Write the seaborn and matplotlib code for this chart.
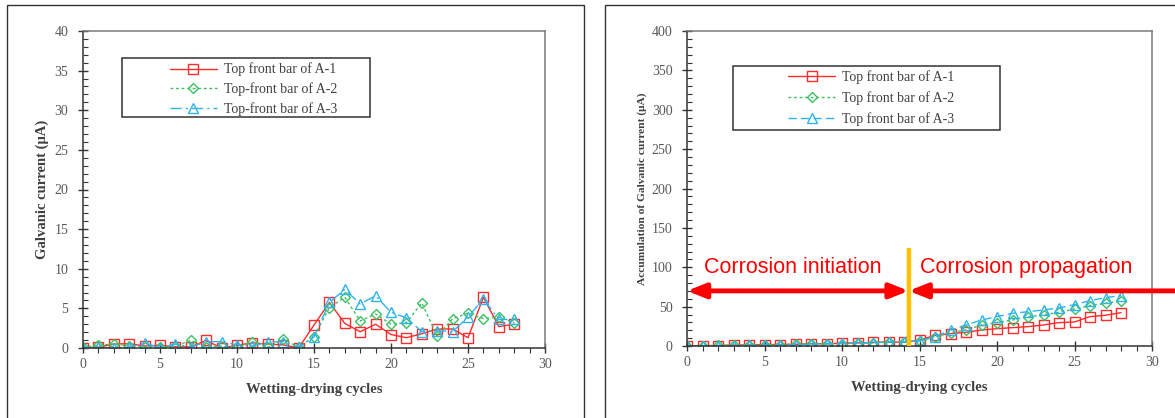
import numpy as np
import pandas as pd
import seaborn as sns
from matplotlib import pyplot as plt
from matplotlib.patches import Rectangle
from matplotlib.ticker import MultipleLocator

cycles = list(range(29))

# galvanic current, uA (left panel)
cur_a1 = [0, 0.1, 0.5, 0.55, 0.25, 0.35, 0.15, 0.15, 0.95, 0, 0.35, 0.65, 0.5, 0.4, 0,
          2.9, 5.75, 3.1, 2.05, 3.0, 1.7, 1.3, 1.8, 2.4, 2.4, 1.3, 6.4, 2.7, 3.0]
cur_a2 = [0.1, 0.35, 0.5, 0.25, 0.15, 0.1, 0.25, 0.95, 0.1, 0.25, 0.1, 0.8, 0.1, 1.1, 0.1,
          1.4, 5.1, 6.4, 3.4, 4.3, 3.0, 3.2, 5.7, 1.5, 3.7, 4.4, 3.7, 3.9, 3.2]
cur_a3 = [0, 0.1, 0, 0.1, 0.65, 0, 0.5, 0.1, 0.8, 0.8, 0.4, 0.25, 0.75, 0.8, 0.1,
          1.4, 5.75, 7.4, 5.55, 6.6, 4.5, 3.8, 2.05, 2.2, 2.05, 3.9, 6.2, 3.6, 3.6]

# accumulated galvanic current (right panel)
acc_a1 = [0, 0.2, 0.6, 1.2, 1.4, 1.8, 1.9, 2.1, 3.0, 3.0, 3.4, 4.0, 4.5, 4.9, 4.9,
          7.6, 13.5, 15.7, 17.4, 20.3, 22.0, 23.3, 24.6, 26.7, 29.7, 30.5, 37.3, 39.0, 42.4]
acc_a2 = [0.1, 0.4, 0.9, 1.1, 1.3, 1.4, 1.6, 2.6, 2.7, 2.9, 3.0, 3.8, 3.9, 5.0, 5.1,
          6.5, 11.5, 17.0, 20.3, 26.7, 29.7, 33.0, 37.3, 39.4, 42.8, 47.0, 51.3, 54.2, 57.2]
acc_a3 = [0, 0.1, 0.1, 0.2, 0.8, 0.8, 1.3, 1.4, 2.2, 3.0, 3.4, 3.7, 4.4, 5.2, 5.3,
          6.5, 11.9, 20.3, 26.7, 33.0, 37.3, 41.5, 43.6, 45.8, 48.3, 52.5, 57.6, 61.4, 64.0]

left_labels = ["Top front bar of A-1", "Top-front bar of A-2", "Top-front bar of A-3"]
right_labels = ["Top front bar of A-1", "Top front bar of A-2", "Top front bar of A-3"]

split_cycle = 14.3
arrow_y = 70
split_top = 125

df_cur = pd.DataFrame({"cycle": cycles, "A1": cur_a1, "A2": cur_a2, "A3": cur_a3})
df_acc = pd.DataFrame({"cycle": cycles, "A1": acc_a1, "A2": acc_a2, "A3": acc_a3})

sns.set_style("ticks")
plt.rcParams['font.family'] = ['Liberation Serif', 'DejaVu Serif']

red = '#FF2A2A'
green = '#3CC060'
blue = '#2DB4EA'
tick_grey = '#595959'
label_grey = '#404040'

fig = plt.figure(figsize=(11.75, 4.18), dpi=100)

# panel frames
fig.patches.append(Rectangle((7 / 1175, -0.05), 577 / 1175, 1.05 - 5 / 418,
                             transform=fig.transFigure, fill=False, ec='#333333', lw=1.0))
fig.patches.append(Rectangle((605 / 1175, -0.05), 0.6, 1.05 - 5 / 418,
                             transform=fig.transFigure, fill=False, ec='#333333', lw=1.0))

ax1 = fig.add_axes([83 / 1175, 1 - 348 / 418, 462 / 1175, 317 / 418])
ax2 = fig.add_axes([687 / 1175, 1 - 346 / 418, 465 / 1175, 315 / 418])


def draw_series(ax, df, labels, a3_dash):
    styles = [
        ("A1", red, 's', '-'),
        ("A2", green, 'D', (0, (2, 2))),
        ("A3", blue, '^', a3_dash),
    ]
    for (col, c, m, ls), lab in zip(styles, labels):
        sns.lineplot(data=df, x="cycle", y=col, ax=ax, color=c, marker=m,
                     markersize=6.5 if m != 'D' else 5, markerfacecolor='none',
                     markeredgecolor=c, markeredgewidth=1.0, linestyle=ls,
                     linewidth=1.0, label=lab, legend=False)


def style_axes(ax, ymax, ymaj, ymin_step, ylabel, ylabel_size):
    ax.set_xlim(0, 30)
    ax.set_ylim(0, ymax)
    ax.xaxis.set_major_locator(MultipleLocator(5))
    ax.xaxis.set_minor_locator(MultipleLocator(1))
    ax.yaxis.set_major_locator(MultipleLocator(ymaj))
    ax.yaxis.set_minor_locator(MultipleLocator(ymin_step))
    ax.tick_params(axis='both', which='major', direction='inout', length=7, width=1,
                   color='#333333', labelsize=10, labelcolor=tick_grey)
    ax.tick_params(axis='y', which='major', pad=7)
    ax.tick_params(axis='x', which='major', pad=4)
    ax.tick_params(axis='y', which='minor', direction='in', length=3.5, width=0.8, color='#333333')
    ax.tick_params(axis='x', which='minor', direction='out', length=3.5, width=0.8, color='#333333')
    for side in ['left', 'bottom']:
        ax.spines[side].set_color('#333333')
        ax.spines[side].set_linewidth(1.1)
    for side in ['top', 'right']:
        ax.spines[side].set_color('#7a7a7a')
        ax.spines[side].set_linewidth(1.1)
    ax.set_xlabel("Wetting-drying cycles", fontsize=10.5, fontweight='bold', color=label_grey,
                  labelpad=8)
    ax.set_ylabel(ylabel, fontsize=ylabel_size, fontweight='bold', color=label_grey)


def add_legend(ax, box, anchor, spacing):
    ax.add_patch(Rectangle((box[0], box[1]), box[2] - box[0], box[3] - box[1],
                           transform=ax.transAxes, fill=False, ec='#333333', lw=1.1, zorder=5))
    h, l = ax.get_legend_handles_labels()
    ax.legend(h, l, loc='upper left', bbox_to_anchor=anchor, frameon=False, fontsize=10,
              handlelength=3.4, handletextpad=0.5, labelspacing=spacing, borderaxespad=0,
              borderpad=0, labelcolor=label_grey)


draw_series(ax1, df_cur, left_labels, (0, (8, 3, 1.5, 3)))
style_axes(ax1, 40, 5, 1, "Galvanic current (μA)", 10.5)
ax1.yaxis.set_label_coords(-0.074, 0.5)
add_legend(ax1, (0.084, 0.729, 0.621, 0.915), (0.188, 0.9), 0.42)

draw_series(ax2, df_acc, right_labels, (0, (6, 3)))
style_axes(ax2, 400, 50, 10, "Accumulation of Galvanic current (μA)", 8.2)
ax2.yaxis.set_label_coords(-0.086, 0.5)
add_legend(ax2, (0.099, 0.686, 0.673, 0.889), (0.217, 0.875), 0.52)

# initiation / propagation annotation
ax2.plot([split_cycle, split_cycle], [0, split_top], color='#FFC000', lw=3.2, zorder=6,
         solid_capstyle='butt')
ax2.annotate("", xy=(split_cycle, arrow_y), xytext=(0, arrow_y),
             arrowprops=dict(arrowstyle='<|-|>,head_length=0.55,head_width=0.22',
                             color='#FF0000', lw=3.5, shrinkA=0, shrinkB=0,
                             mutation_scale=20), zorder=7)
ax2.annotate("", xy=(split_cycle, arrow_y), xytext=(31.6, arrow_y),
             annotation_clip=False,
             arrowprops=dict(arrowstyle='-|>,head_length=0.55,head_width=0.22',
                             color='#FF0000', lw=3.5, shrinkA=0, shrinkB=0,
                             mutation_scale=20, clip_on=False), zorder=7)
ax2.text(6.85, 100, "Corrosion initiation", color='#FF0000', fontsize=15.5,
         family=['Liberation Sans', 'DejaVu Sans'], ha='center', va='center')
ax2.text(21.9, 100, "Corrosion propagation", color='#FF0000', fontsize=15.5,
         family=['Liberation Sans', 'DejaVu Sans'], ha='center', va='center')

fig.savefig("out.png", dpi=100)
